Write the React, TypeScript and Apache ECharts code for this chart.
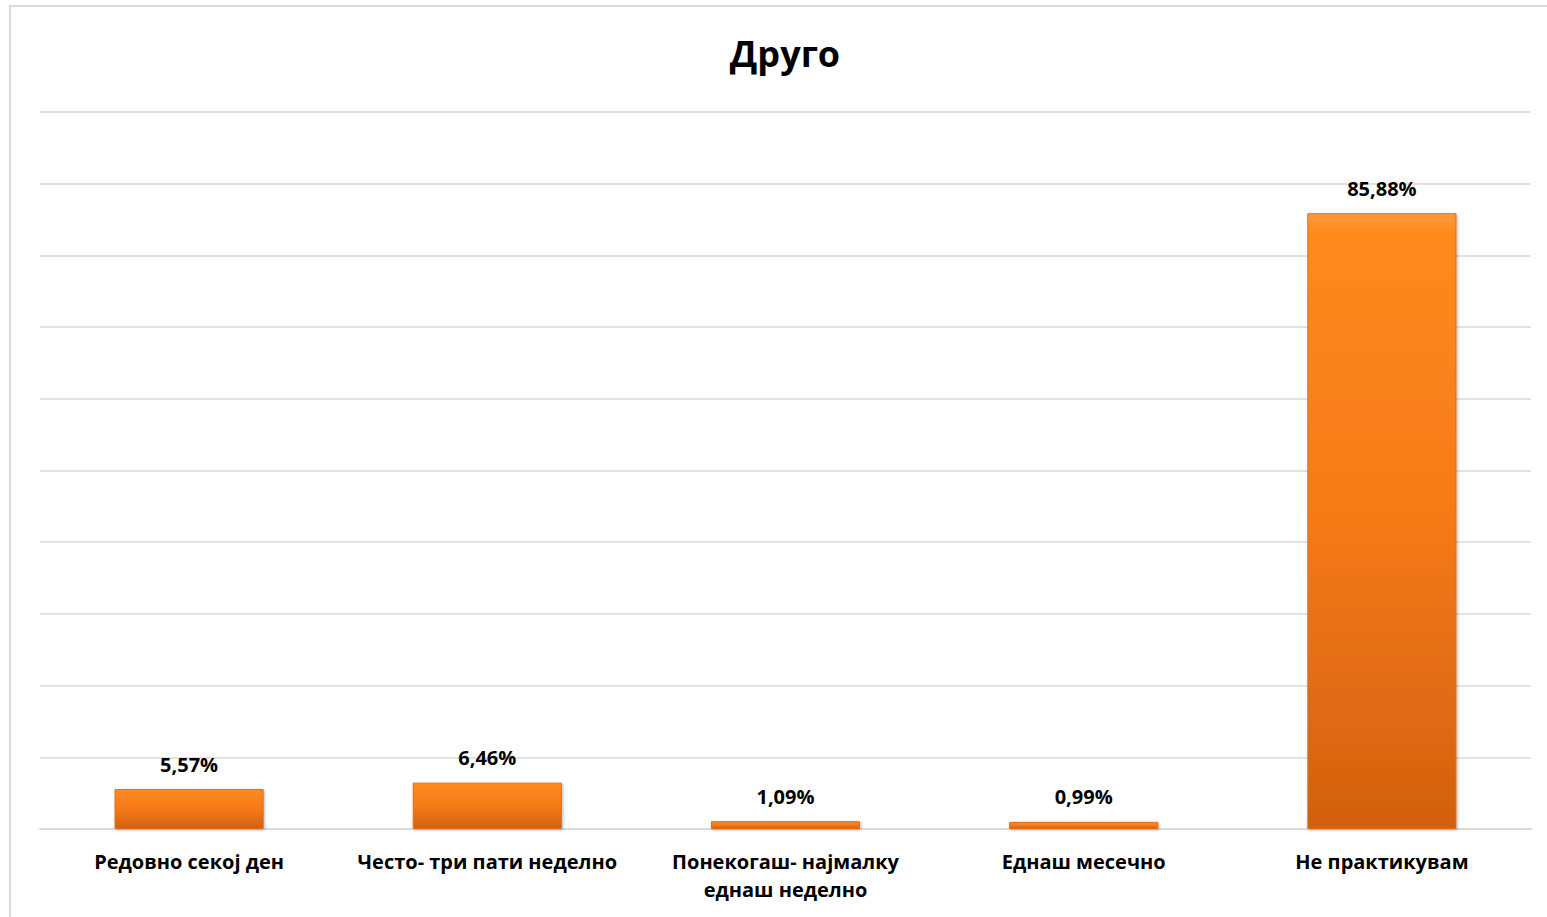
import React, { useEffect, useRef } from "react";
import * as echarts from "echarts";

const titleText = "Друго";
const categories = [
  "Редовно секој ден",
  "Често- три пати неделно",
  "Понекогаш- најмалку\nеднаш неделно",
  "Еднаш месечно",
  "Не практикувам",
];
const values = [5.57, 6.46, 1.09, 0.99, 85.88];

export default function App() {
  const ref = useRef<HTMLDivElement>(null);
  useEffect(() => {
    if (!ref.current) return;
    const chart = echarts.init(ref.current, null, { renderer: "svg" });
    const font = "'Open Sans', Lato, sans-serif";
    chart.setOption({
      animation: false,
      backgroundColor: "#ffffff",
      graphic: [
        {
          type: "rect",
          shape: { x: 10, y: 6, width: 1560, height: 940 },
          style: { fill: "none", stroke: "#d9d9d9", lineWidth: 2 },
          silent: true,
        },
        {
          type: "text",
          x: 785,
          y: 53,
          style: {
            text: titleText,
            fontFamily: font,
            fontWeight: "bold",
            fontSize: 36,
            fill: "#000000",
            align: "center",
            verticalAlign: "middle",
          },
          silent: true,
        },
      ],
      grid: { left: 40, right: 16, top: 112, bottom: 88, containLabel: false },
      xAxis: {
        type: "category",
        data: categories,
        axisLine: { show: true, lineStyle: { color: "#d9d9d9", width: 2 } },
        axisTick: { show: false },
        axisLabel: {
          interval: 0,
          margin: 18,
          fontFamily: font,
          fontWeight: "bold",
          fontSize: 20,
          lineHeight: 28,
          color: "#000000",
        },
      },
      yAxis: {
        type: "value",
        min: 0,
        max: 100,
        interval: 10,
        axisLabel: { show: false },
        axisLine: { show: false },
        axisTick: { show: false },
        splitLine: { show: true, lineStyle: { color: "#d9d9d9", width: 1.5 } },
      },
      series: [
        {
          type: "bar",
          data: values,
          barWidth: "50%",
          itemStyle: {
            color: new echarts.graphic.LinearGradient(0, 0, 0, 1, [
              { offset: 0, color: "#FF9A3A" },
              { offset: 0.03, color: "#FF8A1E" },
              { offset: 0.5, color: "#F57A18" },
              { offset: 1, color: "#D2600F" },
            ]),
            borderColor: "#E06E15",
            borderWidth: 1,
            shadowColor: "rgba(0,0,0,0.3)",
            shadowBlur: 3,
            shadowOffsetX: 1,
            shadowOffsetY: 1,
          },
          label: {
            show: true,
            position: "top",
            distance: 15,
            fontFamily: font,
            fontWeight: "bold",
            fontSize: 20,
            color: "#000000",
            formatter: (p: any) => p.value.toFixed(2).replace(".", ",") + "%",
          },
        },
      ],
    });
    return () => chart.dispose();
  }, []);
  return (
    <div
      ref={ref}
      style={{ position: "absolute", left: 0, top: 0, width: 1547, height: 917 }}
    />
  );
}
